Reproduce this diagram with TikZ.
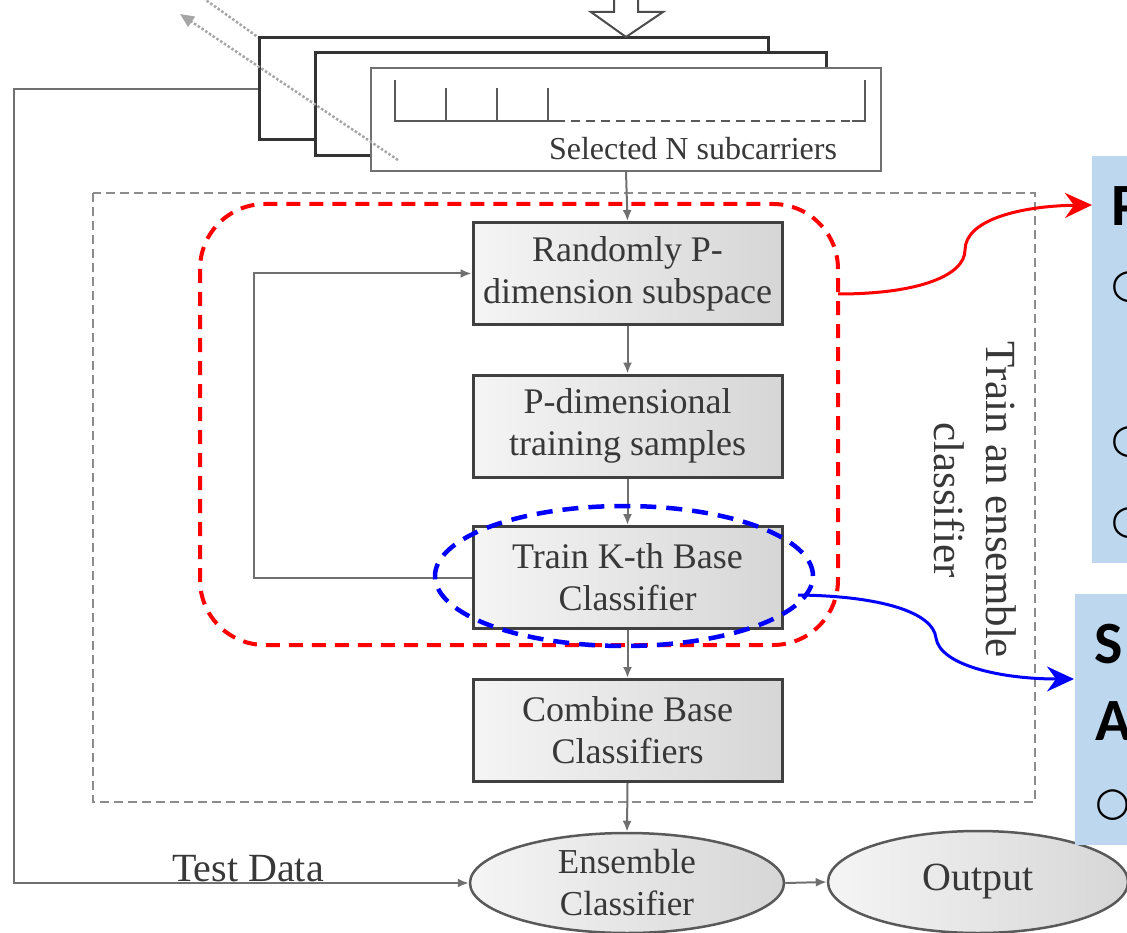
\documentclass[tikz,border=0pt]{standalone}
\usepackage{fontspec}
\setmainfont{Liberation Serif}
\newfontfamily\slidefont{Carlito}
\newfontfamily\bulletfont{DejaVu Sans}
\usetikzlibrary{arrows.meta,shapes.geometric}

\definecolor{txtgray}{HTML}{383838}
\definecolor{linegray}{HTML}{707070}
\definecolor{slideblue}{HTML}{BDD7EE}

\tikzset{
	frame/.style={draw=black!80, line width=3pt, fill=white, inner sep=0pt},
	tickline/.style={draw=black!65, line width=2pt},
	dots/.style={draw=black!35, line width=2.5pt, dotted},
	stage/.style={draw=black!75, line width=3pt, left color=black!4, right color=black!16, text=txtgray, minimum width=309pt, minimum height=102pt, align=center, inner sep=0pt, font=\fontsize{36}{42}\selectfont},
	oval/.style={ellipse, draw=black!65, line width=2.5pt, left color=black!4, right color=black!16, text=txtgray, align=center, inner sep=0pt},
	gbox/.style={draw=black!45, line width=2pt, dash pattern=on 9pt off 5pt},
	link/.style={draw=linegray, line width=2pt, -{Latex[length=11pt,width=9pt]}},
	reddash/.style={draw=red, line width=4pt, dash pattern=on 14pt off 9pt, rounded corners=65pt},
	bluedash/.style={draw=blue, line width=4.5pt, dash pattern=on 16pt off 10pt},
	callout/.style={line width=3pt, -{Stealth[length=27pt,width=25pt,inset=9pt]}},
	note/.style={fill=slideblue, anchor=north west, inner sep=0pt},
	slide/.style={anchor=base west, inner sep=0pt, font=\slidefont\bfseries\fontsize{60}{60}\selectfont},
	bullet/.style={inner sep=0pt, font=\bulletfont\fontsize{40}{40}\selectfont}
}

\begin{document}
\begin{tikzpicture}[x=1pt,y=-1pt]
\useasboundingbox (0,0) rectangle (1127,933);
\clip (0,0) rectangle (1127,933);

% stacked input frames
\draw[dots] (203,-2) -- (262,40);
\node (back) at (513.5,89) [frame, minimum width=509pt, minimum height=102pt] {};
\node (mid) at (570.5,104.5) [frame, minimum width=511pt, minimum height=103pt] {};
\node (front) at (626,119.5) [frame, draw=linegray, line width=2pt, minimum width=510pt, minimum height=103pt] {};

\draw[tickline] (395,80) -- (395,121) -- (556,121);
\draw[tickline, dash pattern=on 9pt off 6pt] (556,121) -- (852,121);
\draw[tickline] (852,121) -- (865,121) -- (865,80);
\foreach \x in {446,497,548}
	\draw[tickline] (\x,88) -- (\x,121);
\node (selN) at (693,149) [text=txtgray, font=\fontsize{32}{36}\selectfont] {Selected N subcarriers};

\draw[draw=black!70, line width=2pt, fill=white] (614,-6) -- (614,12) -- (591,12) -- (626,37) -- (663,12) -- (638,12) -- (638,-6);
\draw[dots, -{Triangle[length=14pt,width=12pt]}] (398,160) -- (180,14);

% ensemble training block
\draw[gbox] (93,193) rectangle (1035,802);

\node (rand) at (627.5,273.5) [stage] {Randomly P-\\dimension subspace};
\node (pdim) at (627.5,426) [stage] {P-dimensional\\training samples};
\node (train) at (627.5,577.5) [stage] {Train K-th Base\\Classifier};
\node (comb) at (627.5,730.5) [stage] {Combine Base\\Classifiers};

\node (ens) at (627,883) [oval, minimum width=314pt, minimum height=100pt, font=\fontsize{35}{42}\selectfont] {Ensemble\\Classifier};
\node (out) at (978,882) [oval, minimum width=300pt, minimum height=102pt, font=\fontsize{40}{44}\selectfont] {Output};

\node (trainlbl) at (975,500) [rotate=-90, align=center, text=txtgray, font=\fontsize{43}{52}\selectfont] {Train an ensemble\\classifier};

\draw[link] (front.south) -- (rand.north);
\draw[link] (rand.south) -- (pdim.north);
\draw[link] (pdim.south) -- (train.north);
\draw[link] (train.south) -- (comb.north);
\draw[link] (comb.south) -- (ens.north);
\draw[link] (train.west) -- ++(-218,0) |- (rand.west);
\draw[link] (back.west) -- ++(-244,0) |- (ens.west);
\draw[link] (ens.east) -- (out.west);
\node (testlbl) at (248,881) [anchor=base, inner sep=0pt, text=txtgray, font=\fontsize{40}{44}\selectfont] {Test Data};

% highlights
\draw[reddash] (200,204) rectangle (838,645);
\node (focus) at (624,576) [ellipse, bluedash, minimum width=378pt, minimum height=140pt] {};

\node (note1) at (1092,156) [note, minimum width=60pt, minimum height=407pt] {};
\node (note2) at (1075,594) [note, minimum width=80pt, minimum height=251pt] {};
\node (hdP) at (1111,226) [slide] {P};
\node (hdS) at (1094,663) [slide] {S};
\node (hdA) at (1095,740) [slide] {A};
\node (b1) at (1129,287) [bullet] {○};
\node (b2) at (1129,442) [bullet] {○};
\node (b3) at (1129,523) [bullet] {○};
\node (b4) at (1113,805) [bullet] {○};

\coordinate (rfrom) at (838,294);
\coordinate (rto) at (1092,205);
\coordinate (bfrom) at (798,595);
\coordinate (bto) at (1074,679);
\draw[callout, red] (rfrom) .. controls (920,294) and (965,275) .. (965,250) .. controls (965,220) and (1020,206) .. (rto);
\draw[callout, blue] (bfrom) .. controls (880,596) and (933,612) .. (936,638) .. controls (940,665) and (1000,679) .. (bto);
\end{tikzpicture}
\end{document}
